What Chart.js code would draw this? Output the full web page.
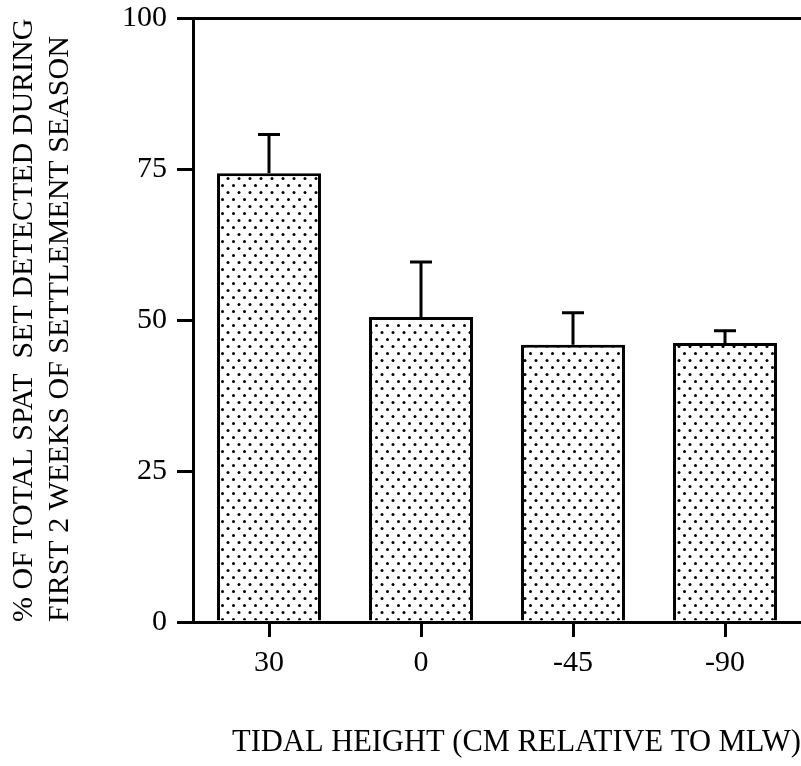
<!DOCTYPE html>
<html>
<head>
<meta charset="utf-8">
<script src="https://cdn.jsdelivr.net/npm/chart.js@4/dist/chart.umd.min.js"></script>
<style>
  html, body { margin: 0; padding: 0; background: #fff; }
  #wrap { width: 801px; height: 766px; }
</style>
</head>
<body>
<div id="wrap"><canvas id="c" width="801" height="766"></canvas></div>
<script>
const categories = ['30', '0', '-45', '-90'];
const meanPercent = [74.3, 50.5, 45.9, 46.2];
const errorUpper = [6.4, 9.1, 5.3, 2.0];
const yTicks = [0, 25, 50, 75, 100];
const xTitle = 'TIDAL HEIGHT (CM RELATIVE TO MLW)';
const yTitle = ['% OF TOTAL SPAT  SET DETECTED DURING', 'FIRST 2 WEEKS OF SETTLEMENT SEASON'];

function makeStipple() {
  const t = document.createElement('canvas');
  t.width = 11; t.height = 14;
  const g = t.getContext('2d');
  g.fillStyle = '#fff';
  g.fillRect(0, 0, 11, 14);
  g.fillStyle = '#000';
  g.beginPath(); g.arc(2.5, 3.5, 1.5, 0, Math.PI * 2); g.fill();
  g.beginPath(); g.arc(8, 10.5, 1.5, 0, Math.PI * 2); g.fill();
  return document.getElementById('c').getContext('2d').createPattern(t, 'repeat');
}

const errorBars = {
  id: 'errorBars',
  afterDatasetsDraw(chart) {
    const ctx = chart.ctx;
    const meta = chart.getDatasetMeta(0);
    const ys = chart.scales.y;
    ctx.save();
    ctx.strokeStyle = '#000';
    ctx.lineWidth = 3;
    meta.data.forEach((bar, i) => {
      const top = ys.getPixelForValue(meanPercent[i] + errorUpper[i]);
      ctx.beginPath();
      ctx.moveTo(bar.x, bar.y);
      ctx.lineTo(bar.x, top);
      ctx.moveTo(bar.x - 11, top);
      ctx.lineTo(bar.x + 11, top);
      ctx.stroke();
    });
    ctx.restore();
  }
};

const serif = 'Liberation Serif';

new Chart(document.getElementById('c'), {
  type: 'bar',
  data: {
    labels: categories,
    datasets: [{
      data: meanPercent,
      backgroundColor: makeStipple(),
      borderColor: '#000',
      borderWidth: 3,
      barPercentage: 0.684,
      categoryPercentage: 1.0
    }]
  },
  options: {
    responsive: false,
    animation: false,
    events: [],
    layout: { padding: { top: 18, left: 0, right: 0, bottom: 0 } },
    plugins: { legend: { display: false }, tooltip: { enabled: false } },
    scales: {
      x: {
        offset: true,
        afterFit: s => { s.height = 144; },
        grid: { offset: false, drawOnChartArea: false, drawTicks: true, tickLength: 15, tickColor: '#000', tickWidth: 3 },
        border: { display: true, color: '#000', width: 3, z: 1 },
        ticks: { color: '#000', font: { family: serif, size: 30 }, padding: 8, maxRotation: 0 },
        title: { display: true, text: xTitle, align: 'end', color: '#000', font: { family: serif, size: 30.5, lineHeight: 1.2 }, padding: { top: 0, bottom: 5 } }
      },
      y: {
        min: 0, max: 100,
        afterFit: s => { s.width = 193; s.paddingTop = 0; s.paddingBottom = 0; },
        afterBuildTicks: s => { s.ticks = yTicks.map(v => ({ value: v })); },
        grid: {
          color: c => (c.tick && (c.tick.value === 0 || c.tick.value === 100)) ? '#000' : 'rgba(0,0,0,0)',
          lineWidth: 3, tickLength: 16, tickColor: '#000', tickWidth: 3
        },
        border: { display: true, color: '#000', width: 3, z: 1 },
        ticks: { color: '#000', font: { family: serif, size: 30 }, padding: 10 },
        title: { display: true, text: yTitle, align: 'start', color: '#000', font: { family: serif, size: 30, lineHeight: 1.2 }, padding: { top: 6, bottom: 0 } }
      }
    }
  },
  plugins: [errorBars]
});
</script>
</body>
</html>
